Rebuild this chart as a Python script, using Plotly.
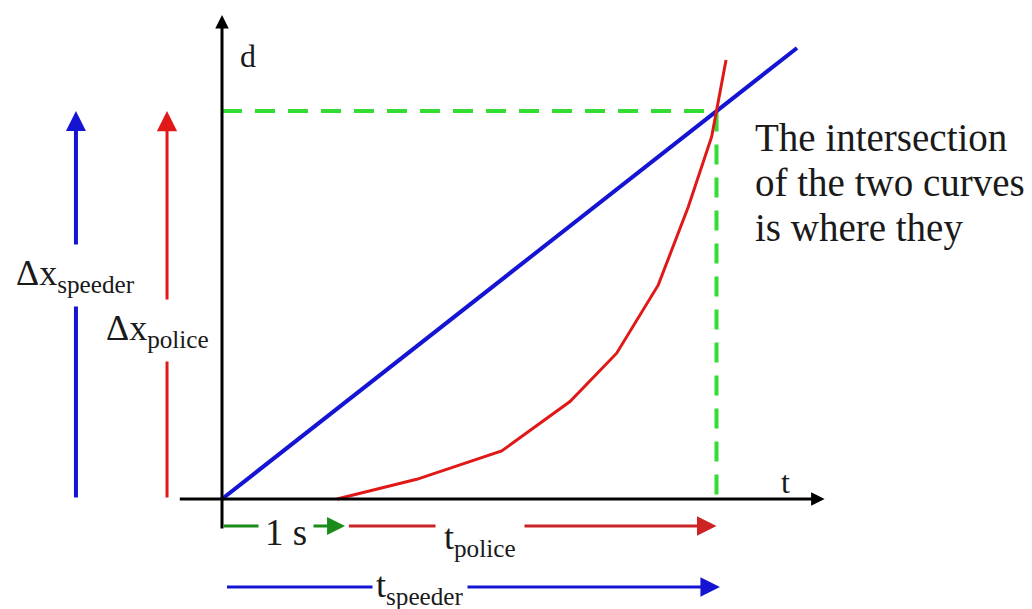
import plotly.graph_objects as go

# ---- data (t in s, d in m) ----
t_speeder = [0.0, 5.0]
d_speeder = [0.0, 150.0]

t_police = [1.0, 1.693, 2.432, 3.026, 3.432, 3.794, 4.055, 4.258, 4.383]
d_police = [0.0, 6.55, 15.96, 32.4, 48.5, 71.2, 97.2, 120.5, 146.0]

t_meet = 4.30
d_meet = 129.0
t_delay = 1.0

# diagram guide positions (data units)
x_axis_range = [-0.38, 5.24]
y_axis_range = [-10.3, 161.0]

x_range = [-1.9304, 7.0435]
y_range = [-36.58, 165.95]

BLUE = "#1414d2"
RED = "#e01818"
RED2 = "#cc2424"
GREEN_D = "#33dd33"
GREEN = "#1a8c1a"
TXT = "#1a1a1a"
FONT = "Liberation Serif"

fig = go.Figure()

# green dashed guide
fig.add_trace(go.Scatter(x=[0, t_meet, t_meet], y=[d_meet, d_meet, 0], mode="lines",
                         line=dict(color=GREEN_D, width=4, dash="20px,13px"),
                         hoverinfo="skip", showlegend=False))
# speeder
fig.add_trace(go.Scatter(x=t_speeder, y=d_speeder, mode="lines",
                         line=dict(color=BLUE, width=4), showlegend=False))
# police
fig.add_trace(go.Scatter(x=t_police, y=d_police, mode="lines",
                         line=dict(color=RED, width=3), showlegend=False))

ann = []

def arrow(x0, y0, x1, y1, color, width, size):
    ann.append(dict(x=x1, y=y1, ax=x0, ay=y0, xref="x", yref="y", axref="x", ayref="y",
                    showarrow=True, arrowhead=2, arrowsize=size, arrowwidth=width,
                    arrowcolor=color, standoff=0, text=""))

def label(x, y, text, size, xanchor="center", bg=None, pad=1):
    d = dict(x=x, y=y, xref="x", yref="y", text=text, showarrow=False,
             font=dict(family=FONT, size=size, color=TXT), xanchor=xanchor,
             yanchor="middle", borderpad=pad)
    if bg:
        d["bgcolor"] = bg
    ann.append(d)

# axes
arrow(x_axis_range[0], 0, x_axis_range[1], 0, "black", 3, 0.9)
arrow(0, y_axis_range[0], 0, y_axis_range[1], "black", 3, 0.9)

# vertical displacement arrows
arrow(-1.27, 0, -1.27, d_meet, BLUE, 4, 1.0)
arrow(-0.478, 0, -0.478, d_meet, RED, 3, 1.35)

# bottom time arrows
arrow(0, -9.0, t_delay + 0.07, -9.0, GREEN, 3, 1.2)
arrow(t_delay + 0.09, -9.0, t_meet, -9.0, RED2, 3, 1.3)
arrow(0.03, -29.3, t_meet + 0.03, -29.3, BLUE, 3, 1.3)

# labels
label(0.226, 147.3, "d", 32)
label(4.904, 5.65, "t", 32)
label(-1.278, 74.2, "Δx<sub>speeder</sub>", 36, bg="white", pad=8)
label(-0.557, 56.2, "Δx<sub>police</sub>", 36, bg="white", pad=8)
label(0.56, -11.0, "1 s", 37, bg="white", pad=6)
label(1.72, -29.4, "t<sub>speeder</sub>", 36, bg="white", pad=3)
label(2.243, -13.6, "t<sub>police</sub>", 36, bg="white", pad=8)
label(4.62, 120.1, "The intersection", 39, xanchor="left")
label(4.62, 105.4, "of the two curves", 39, xanchor="left")
label(4.62, 90.1, "is where they", 39, xanchor="left")

fig.update_layout(
    width=1032, height=609,
    margin=dict(l=0, r=0, t=0, b=0),
    paper_bgcolor="white", plot_bgcolor="white",
    xaxis=dict(range=x_range, visible=False, fixedrange=True),
    yaxis=dict(range=y_range, visible=False, fixedrange=True),
    annotations=ann,
    showlegend=False,
)

fig.write_html("out.html", config={"displayModeBar": False},
               post_script="document.body.style.margin='0';")
